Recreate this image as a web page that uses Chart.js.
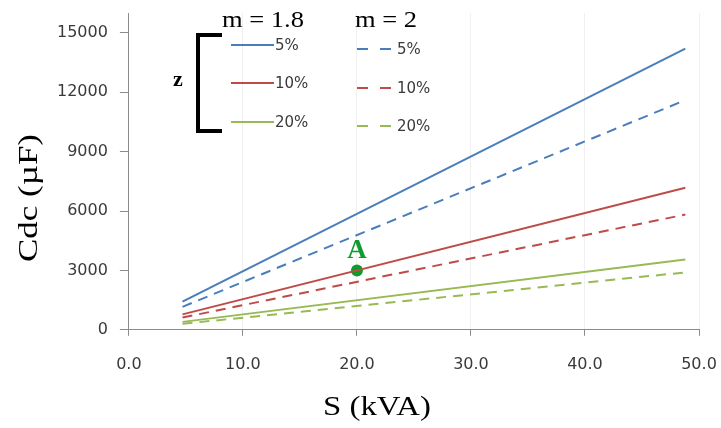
<!DOCTYPE html>
<html lang="en">

<head>
    <meta charset="UTF-8">
    <title>Cdc vs S</title>
    <script src="https://cdn.jsdelivr.net/npm/chart.js"></script>
    <style>
        html, body { margin: 0; padding: 0; background: #ffffff; }
        #grafico { display: block; }
    </style>
</head>

<body>
    <canvas id="grafico" width="721" height="428"></canvas>

    <script>
        // valores
        const potencias = [4.7, 48.8];           // S (kVA)
        const m18_5 = [1420, 14200];
        const m18_10 = [780, 7170];
        const m18_20 = [400, 3550];
        const m2_5 = [1160, 11600];
        const m2_10 = [620, 5820];
        const m2_20 = [300, 2900];
        const pontoA = { x: 20, y: 3000 };
        const rotulosZ = ['5%', '10%', '20%'];
        const ticksX = [0, 10, 20, 30, 40, 50];
        const ticksY = [0, 3000, 6000, 9000, 12000, 15000];

        const azul = '#4a7ebb';
        const vermelho = '#be4b48';
        const verde = '#98b954';
        const verdeA = '#0e9c2e';
        const cinza = '#8c8c8c';

        function serie(valores) {
            return potencias.map((s, i) => ({ x: s, y: valores[i] }));
        }

        function linha(valores, cor, tracejada) {
            return {
                data: serie(valores),
                borderColor: cor,
                borderWidth: 2,
                borderDash: tracejada ? [10, 7] : [],
                pointRadius: 0,
                fill: false
            };
        }

        // texto esticado na horizontal (a figura original está esticada)
        function textoEsticado(ctx, texto, cx, cy, fonte, cor, largura, angulo) {
            ctx.save();
            ctx.font = fonte;
            const w = ctx.measureText(texto).width;
            ctx.translate(cx, cy);
            if (angulo) ctx.rotate(angulo);
            ctx.scale(largura ? largura / w : 1, 1);
            ctx.fillStyle = cor;
            ctx.textAlign = 'center';
            ctx.textBaseline = 'middle';
            ctx.fillText(texto, 0, 0);
            ctx.restore();
        }

        const desenhoExtra = {
            id: 'desenhoExtra',
            afterDraw(chart) {
                const ctx = chart.ctx;
                const sx = chart.scales.x, sy = chart.scales.y;

                // títulos dos eixos
                textoEsticado(ctx, 'Cdc (µF)', 30, 198, '27px "Liberation Serif"', '#000', 128, -Math.PI / 2);
                textoEsticado(ctx, 'S (kVA)', 377, 408, '28px "Liberation Serif"', '#000', 108);

                // rótulo do ponto A
                const ax = sx.getPixelForValue(pontoA.x);
                const ay = sy.getPixelForValue(pontoA.y);
                textoEsticado(ctx, 'A', ax, ay - 19, 'bold 27px "Liberation Serif"', verdeA, 0);

                // legenda
                textoEsticado(ctx, 'm = 1.8', 263, 21, '24px "Liberation Serif"', '#000', 82);
                textoEsticado(ctx, 'm = 2', 386, 21, '24px "Liberation Serif"', '#000', 62);
                textoEsticado(ctx, 'z', 178, 80, 'bold 22px "Liberation Serif"', '#000', 0);

                ctx.save();
                ctx.strokeStyle = '#000';
                ctx.lineWidth = 4;
                ctx.beginPath();
                ctx.moveTo(222, 35);
                ctx.lineTo(198, 35);
                ctx.lineTo(198, 131);
                ctx.lineTo(222, 131);
                ctx.stroke();
                ctx.restore();

                const cores = [azul, vermelho, verde];
                const ySolidas = [45, 83, 122];
                const yTracejadas = [49, 88, 126];
                ctx.save();
                ctx.lineWidth = 2;
                ctx.font = '15px "DejaVu Sans"';
                ctx.fillStyle = '#3a3a3a';
                ctx.textBaseline = 'middle';
                ctx.textAlign = 'left';
                rotulosZ.forEach((r, i) => {
                    ctx.strokeStyle = cores[i];
                    ctx.setLineDash([]);
                    ctx.beginPath();
                    ctx.moveTo(231, ySolidas[i]);
                    ctx.lineTo(274, ySolidas[i]);
                    ctx.stroke();
                    ctx.fillText(r, 275, ySolidas[i] + 1);

                    ctx.setLineDash([11, 12]);
                    ctx.beginPath();
                    ctx.moveTo(357, yTracejadas[i]);
                    ctx.lineTo(391, yTracejadas[i]);
                    ctx.stroke();
                    ctx.fillText(r, 397, yTracejadas[i] + 1);
                });
                ctx.restore();
            }
        };

        const fonteTicks = { family: 'DejaVu Sans', size: 16 };

        // sem folga automática dos rótulos: a margem vem só do layout
        function semFolga(scale) {
            scale.paddingLeft = 0;
            scale.paddingRight = 0;
            scale.paddingTop = 0;
            scale.paddingBottom = 0;
        }

        new Chart(document.getElementById('grafico'), {
            type: 'line',
            data: {
                datasets: [
                    linha(m18_5, azul, false),
                    linha(m2_5, azul, true),
                    linha(m18_10, vermelho, false),
                    linha(m2_10, vermelho, true),
                    linha(m18_20, verde, false),
                    linha(m2_20, verde, true),
                    {
                        type: 'scatter',
                        data: [pontoA],
                        pointRadius: 6,
                        pointBorderWidth: 0,
                        pointBackgroundColor: verdeA,
                        pointBorderColor: verdeA,
                        showLine: false
                    }
                ]
            },
            options: {
                responsive: false,
                devicePixelRatio: 1,
                animation: false,
                layout: { padding: { left: 45, right: 22, top: 13, bottom: 35 } },
                plugins: {
                    legend: { display: false },
                    tooltip: { enabled: false }
                },
                scales: {
                    x: {
                        type: 'linear',
                        min: 0,
                        max: 50,
                        afterBuildTicks: scale => { scale.ticks = ticksX.map(v => ({ value: v })); },
                        afterFit: semFolga,
                        ticks: {
                            font: fonteTicks,
                            color: '#3a3a3a',
                            padding: 19,
                            maxRotation: 0,
                            callback: v => v.toFixed(1)
                        },
                        grid: {
                            color: 'rgba(0,0,0,0.06)',
                            tickColor: cinza,
                            tickLength: 6
                        },
                        border: { color: cinza }
                    },
                    y: {
                        type: 'linear',
                        min: 0,
                        max: 16000,
                        afterBuildTicks: scale => { scale.ticks = ticksY.map(v => ({ value: v })); },
                        afterFit: semFolga,
                        ticks: {
                            font: fonteTicks,
                            color: '#3a3a3a',
                            padding: 12,
                            callback: v => String(v)
                        },
                        grid: {
                            drawOnChartArea: false,
                            tickColor: cinza,
                            tickLength: 9
                        },
                        border: { color: cinza }
                    }
                }
            },
            plugins: [desenhoExtra]
        });
    </script>
</body>

</html>
